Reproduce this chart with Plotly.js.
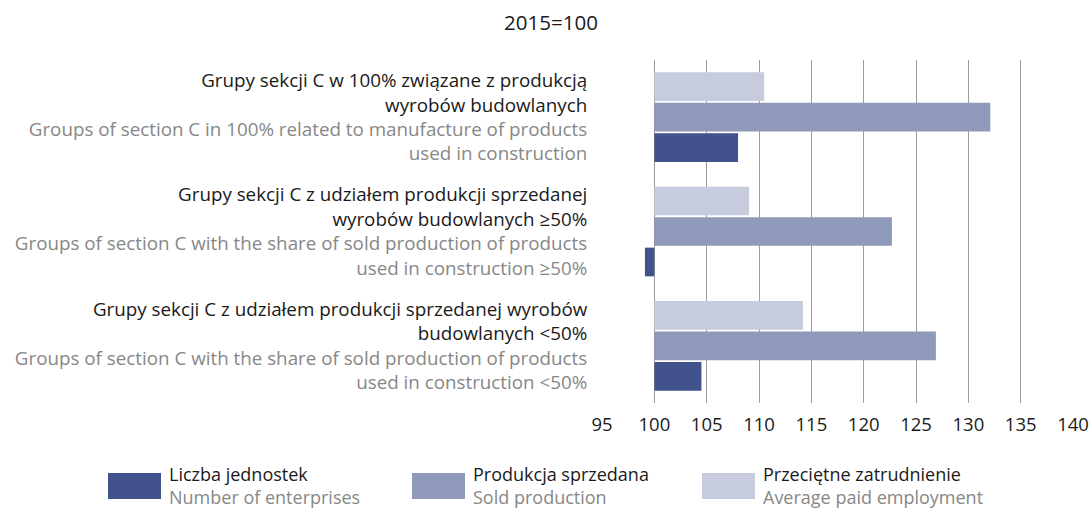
<!DOCTYPE html>
<html>
<head>
<meta charset="utf-8">
<script src="https://cdn.plot.ly/plotly-3.0.1.min.js"></script>
<style>html,body{margin:0;padding:0;background:#fff;} #chart{width:1090px;height:511px;}</style>
</head>
<body>
<div id="chart"></div>
<script>
// ---- data ----
const categoryKeys = ["g100", "g50plus", "g50minus"];
const labelsPL = [
  "Grupy sekcji C w 100% związane z produkcją<br>wyrobów budowlanych",
  "Grupy sekcji C z udziałem produkcji sprzedanej<br>wyrobów budowlanych ≥50%",
  "Grupy sekcji C z udziałem produkcji sprzedanej wyrobów<br>budowlanych &lt;50%"
];
const labelsEN = [
  "Groups of section C in 100% related to manufacture of products<br>used in construction",
  "Groups of section C with the share of sold production of products<br>used in construction ≥50%",
  "Groups of section C with the share of sold production of products<br>used in construction &lt;50%"
];
const seriesNamesPL = ["Liczba jednostek", "Produkcja sprzedana", "Przeciętne zatrudnienie"];
const seriesNamesEN = ["Number of enterprises", "Sold production", "Average paid employment"];
const enterprises = [108.0, 99.1, 104.5];
const soldProduction = [132.1, 122.7, 126.9];
const employment = [110.5, 109.05, 114.2];
const baseValue = 100;
const xTickVals = [95, 100, 105, 110, 115, 120, 125, 130, 135, 140];
const chartTitle = "2015=100";

// ---- styles ----
const colors = ["#42528c", "#8f9aba", "#c6cbde"];
const grayText = "#878787";
const darkText = "#1a1a1a";
const FONT = "'Open Sans', 'Noto Sans', sans-serif";

const W = 1090, H = 511;
const M = {l: 602, r: 17, t: 60, b: 108};
const plotW = W - M.l - M.r, plotH = H - M.t - M.b;
const px = x => (x - M.l) / plotW;
const py = y => (H - M.b - y) / plotH;

const tickText = labelsPL.map((pl, i) =>
  pl + "<br><span style=\"color:" + grayText + "\">" + labelsEN[i] + "</span>");

const seriesValues = [enterprises, soldProduction, employment];
// order top-to-bottom inside each group: employment, sold, enterprises
const order = [2, 1, 0];
const traces = order.map(k => ({
  type: "bar",
  orientation: "h",
  name: seriesNamesPL[k],
  y: categoryKeys,
  x: seriesValues[k].map(v => v - baseValue),
  base: baseValue,
  marker: {color: colors[k], line: {width: 0}},
  hoverinfo: "skip"
}));

const shapes = [];
const annotations = [];
const legendX = [108, 412, 702];
for (let k = 0; k < 3; k++) {
  shapes.push({type: "rect", xref: "paper", yref: "paper",
    x0: px(legendX[k]), x1: px(legendX[k] + 53), y0: py(499), y1: py(473),
    fillcolor: colors[k], line: {width: 0}});
  annotations.push({xref: "paper", yref: "paper", x: px(legendX[k] + 60), y: py(510),
    xanchor: "left", yanchor: "bottom", showarrow: false, align: "left", borderpad: 0,
    text: seriesNamesPL[k] + "<br><span style=\"color:" + grayText + "\">" + seriesNamesEN[k] + "</span>",
    font: {family: FONT, size: 18, color: darkText}});
}

const layout = {
  width: W, height: H,
  margin: M,
  paper_bgcolor: "#fff", plot_bgcolor: "#fff",
  showlegend: false,
  barmode: "group",
  bargap: 0.2,
  bargroupgap: 0.06,
  title: {text: chartTitle, x: 551 / W, xref: "container", y: 1 - 23 / H, yref: "container",
    xanchor: "center", yanchor: "middle", font: {family: FONT, size: 20.5, color: darkText}},
  font: {family: FONT, size: 18, color: darkText},
  xaxis: {
    range: [95, 140], tickvals: xTickVals, ticktext: xTickVals.map(String),
    showgrid: true, gridcolor: "#9c9c9c", gridwidth: 1, zeroline: false, showline: false,
    ticks: "outside", ticklen: 5, tickcolor: "rgba(0,0,0,0)",
    tickfont: {family: FONT, size: 18.5, color: darkText}, fixedrange: true
  },
  yaxis: {
    type: "category", autorange: "reversed",
    tickvals: categoryKeys, ticktext: tickText,
    showgrid: false, zeroline: false, showline: false,
    ticks: "outside", ticklen: 10, tickcolor: "rgba(0,0,0,0)",
    tickfont: {family: FONT, size: 18.8, color: darkText}, fixedrange: true
  },
  shapes: shapes,
  annotations: annotations
};

Plotly.newPlot("chart", traces, layout, {displayModeBar: false, staticPlot: true});
</script>
</body>
</html>
